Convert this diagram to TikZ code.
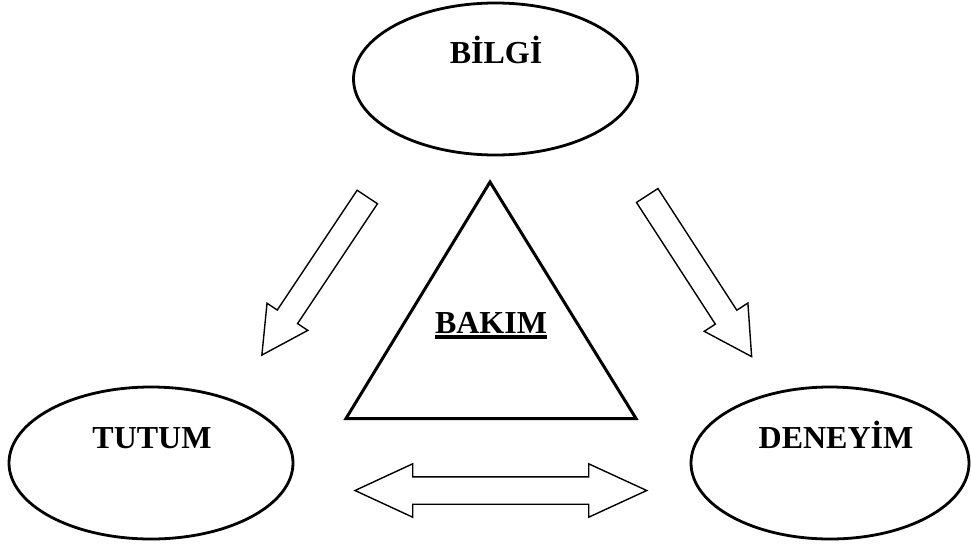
\documentclass[tikz,border=0pt]{standalone}
\usepackage{fontspec}
\setmainfont{Liberation Serif}
\usetikzlibrary{shapes.geometric,calc}
\newcommand\thickul[1]{\setbox0\hbox{#1}\rlap{\rule[-5.5pt]{\wd0}{3.5pt}}\box0}
\begin{document}
\begin{tikzpicture}[x=1pt,y=-1pt,
  oval/.style={draw,ellipse,line width=2.8pt,inner sep=0pt,minimum width=284pt,minimum height=152pt},
  lbl/.style={font=\fontsize{32}{36}\selectfont\bfseries,inner sep=0pt,anchor=base},
  blk/.style={draw,line width=1.4pt,line join=miter,fill=white},
  tri/.style={draw,line width=3pt,line join=miter}]
\useasboundingbox (0,0) rectangle (971,549);
% ellipses
\node[oval] (bilgi) at (495.5,79) {};
\node[lbl] (tbilgi) at ($(bilgi.center)+(0.5,-16)$) {BİLGİ};
\node[oval] (tutum) at (151,463) {};
\node[lbl] (ttutum) at ($(tutum.center)+(1,-15)$) {TUTUM};
\node[oval,minimum width=278pt] (deneyim) at (830,463) {};
\node[lbl] (tdeneyim) at ($(deneyim.center)+(6,-15)$) {DENEYİM};
% triangle
\coordinate (apex) at (490,182);
\coordinate (bl) at (346,418.5);
\coordinate (br) at (636,418.5);
\draw[tri] (apex) -- (bl) -- (br) -- cycle;
\node[lbl] (bakim) at (491,333) {\thickul{BAKIM}};
% block arrows
\draw[blk, shift={(367.3,197)}, rotate=236.3]
  (0,-12.2) -- (144,-12.2) -- (144,-24.5) -- (190,0) -- (144,24.5) -- (144,12.2) -- (0,12.2) -- cycle;
\draw[blk, shift={(647.2,195.5)}, rotate=-57.05]
  (0,-12.8) -- (145,-12.8) -- (145,-26) -- (192,0) -- (145,26) -- (145,12.8) -- (0,12.8) -- cycle;
\draw[blk] (355,490.5) -- (412.7,463.8) -- (412.7,476.8) -- (588.7,476.8) -- (588.7,463.8)
  -- (646.7,490.5) -- (588.7,517.2) -- (588.7,504.2) -- (412.7,504.2) -- (412.7,517.2) -- cycle;
\end{tikzpicture}
\end{document}
